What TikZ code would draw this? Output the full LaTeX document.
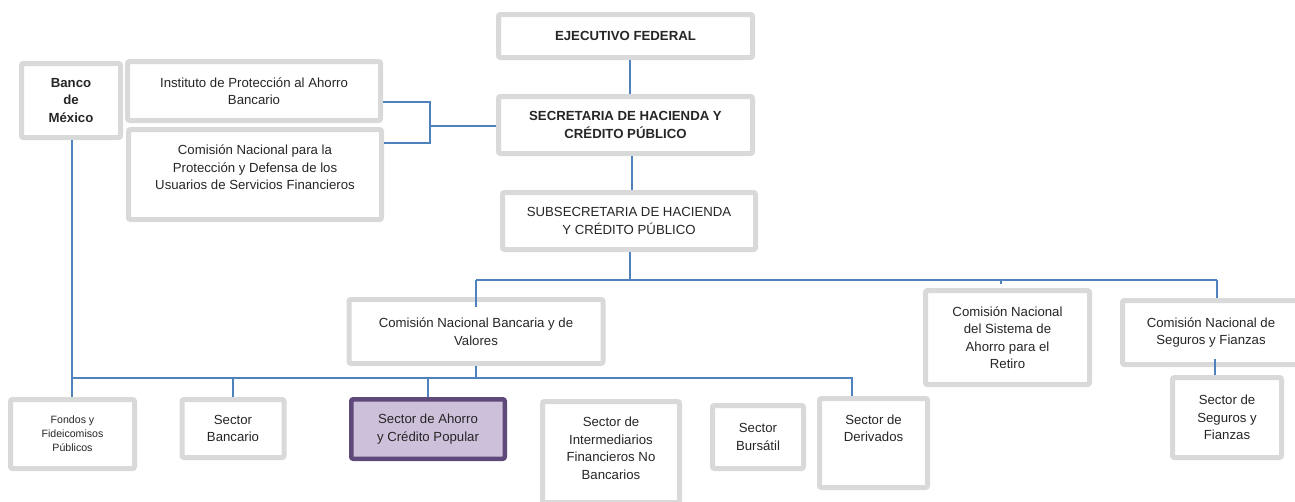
\documentclass[tikz,border=0pt]{standalone}
\usepackage{fontspec}
\setmainfont{Liberation Sans}
\usetikzlibrary{calc}
\definecolor{boxgray}{RGB}{217,217,217}
\definecolor{linkblue}{RGB}{79,129,189}
\definecolor{purpfill}{RGB}{204,192,218}
\definecolor{purpline}{RGB}{95,73,122}
\tikzset{
 box/.style={draw=boxgray, line width=5pt, rounded corners=2pt, fill=white, align=center, inner sep=0pt, text=black!85, font=\fontsize{13.2}{17.5}\selectfont},
 boldbox/.style={box, font=\fontsize{13.2}{17.5}\selectfont\bfseries},
 hibox/.style={box, draw=purpline, fill=purpfill, line width=4.5pt},
 smallbox/.style={box, font=\fontsize{10.6}{14}\selectfont},
 link/.style={draw=linkblue, line width=1.8pt}
}
\begin{document}
\begin{tikzpicture}[x=1pt,y=-1pt]
\useasboundingbox (0,0) rectangle (1295,501);
% boxes
\node[boldbox, minimum width=254pt, minimum height=43pt] (ejec) at (625.5,36) {EJECUTIVO FEDERAL};
\node[boldbox, minimum width=254pt, minimum height=57pt] (shcp) at (625.5,125) {SECRETARIA DE HACIENDA Y\\CRÉDITO PÚBLICO};
\node[box, minimum width=253pt, minimum height=57pt] (sub) at (629,221) {SUBSECRETARIA DE HACIENDA\\Y CRÉDITO PÚBLICO};
\node[boldbox, minimum width=99pt, minimum height=74pt] (banco) at (71,100.5) {Banco\\de\\México};
\node[box, minimum width=253pt, minimum height=59pt] (ipab) at (254,91) {Instituto de Protección al Ahorro\\Bancario};
\node[box, minimum width=253pt, minimum height=90pt] (condusef) at (255,174.5) {Comisión Nacional para la\\Protección y Defensa de los\\Usuarios de Servicios Financieros\\[-3pt]\mbox{}};
\node[box, minimum width=254pt, minimum height=64pt] (cnbv) at (476,331.5) {Comisión Nacional Bancaria y de\\Valores};
\node[box, minimum width=164pt, minimum height=94pt] (consar) at (1007.5,337.5) {Comisión Nacional\\del Sistema de\\Ahorro para el\\Retiro};
\node[box, minimum width=177pt, minimum height=64pt] (cnsf) at (1211,332.5) {Comisión Nacional de\\Seguros y Fianzas};
\node[smallbox, minimum width=124pt, minimum height=69pt] (fondos) at (72.5,434) {Fondos y\\Fideicomisos\\Públicos};
\node[box, minimum width=102pt, minimum height=58pt] (bancario) at (233,428.5) {Sector\\Bancario};
\node[hibox, minimum width=153.5pt, minimum height=59.5pt] (ahorro) at (428,429) {Sector de Ahorro\\y Crédito Popular};
\node[box, minimum width=137pt, minimum height=101pt] (interm) at (611,452) {Sector de\\Intermediarios\\Financieros No\\Bancarios\\[-10pt]\mbox{}};
\node[box, minimum width=91pt, minimum height=63pt] (bursatil) at (758,437) {Sector\\Bursátil};
\node[box, minimum width=108pt, minimum height=89pt] (deriv) at (873.5,443) {Sector de\\Derivados\\[12pt]\mbox{}};
\node[box, minimum width=109pt, minimum height=80pt] (seguros) at (1227,417.5) {Sector de\\Seguros y\\Fianzas};
% bus coordinates
\coordinate (topbusL) at (476,280);
\coordinate (topbusR) at (1217,280);
\coordinate (tick) at (1001,280);
\coordinate (botbusL) at (72,378);
\coordinate (botbusR) at (852,378);
\coordinate (jn) at (430,126);
% connectors
\draw[link] ([xshift=4.5pt]ejec.south) -- ([xshift=4.5pt]shcp.north);
\draw[link] ([xshift=6.5pt]shcp.south) -- ([xshift=3pt]sub.north);
\draw[link] ([xshift=1pt]sub.south) -- ([xshift=1pt]sub.south |- topbusL);
\draw[link] (topbusL) -- (topbusR);
\draw[link] (topbusL) -- ([yshift=-10pt]cnbv.north);
\draw[link] (tick) -- ++(0,4);
\draw[link] (topbusR) -- (cnsf.north -| topbusR);
\draw[link] ([xshift=4pt,yshift=8pt]cnsf.south) -- ([xshift=-12pt]seguros.north);
\draw[link] ([yshift=-11pt]ipab.east) -| (jn) |- ([yshift=31.5pt]condusef.east);
\draw[link] (jn) -- (jn -| shcp.west);
\draw[link] (banco.south -| botbusL) -- (fondos.north -| botbusL);
\draw[link] (botbusL) -- (botbusR) -- (deriv.north -| botbusR);
\draw[link] (cnbv.south) -- (cnbv.south |- botbusL);
\draw[link] (bancario.north) -- (bancario.north |- botbusL);
\draw[link] (ahorro.north) -- (ahorro.north |- botbusL);
\end{tikzpicture}
\end{document}
